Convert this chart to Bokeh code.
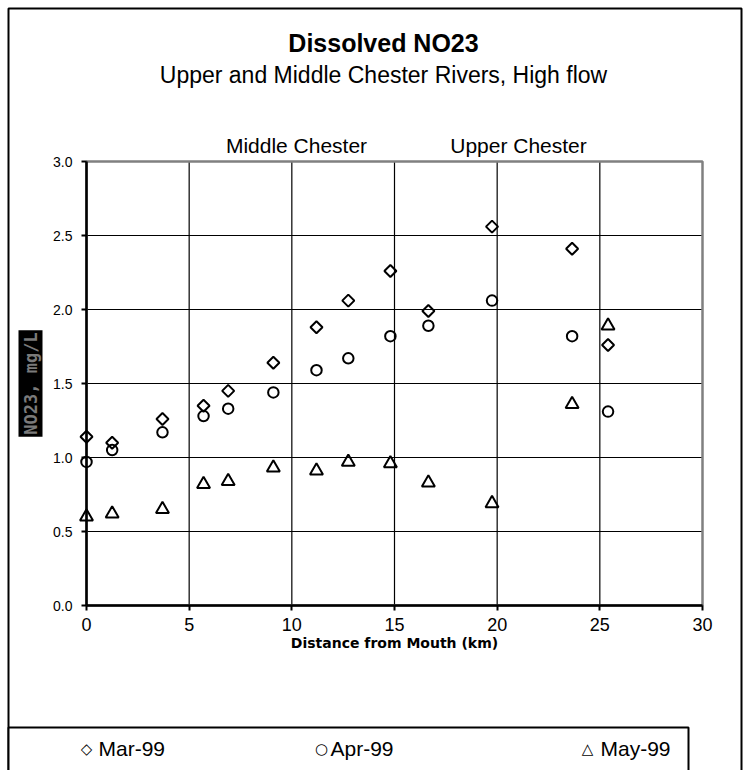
import math
from bokeh.plotting import figure
from bokeh.models import (Label, FixedTicker, Range1d, CustomJSTickFormatter,
                          BoxAnnotation)
from bokeh.embed import file_html
from bokeh.resources import INLINE

# ---- data ----
distance_km = [0, 1.25, 3.7, 5.7, 6.9, 9.1, 11.2, 12.75, 14.8, 16.65, 19.75, 23.65, 25.4]
mar_99 = [1.14, 1.10, 1.26, 1.35, 1.45, 1.64, 1.88, 2.06, 2.26, 1.99, 2.56, 2.41, 1.76]
apr_99 = [0.97, 1.05, 1.17, 1.28, 1.33, 1.44, 1.59, 1.67, 1.82, 1.89, 2.06, 1.82, 1.31]
may_99 = [0.60, 0.62, 0.65, 0.82, 0.84, 0.93, 0.91, 0.97, 0.96, 0.83, 0.69, 1.36, 1.89]
series_names = ["Mar-99", "Apr-99", "May-99"]
legend_symbols = ["\u25C7", "\u25CB", "\u25B3"]
x_ticks = [0, 5, 10, 15, 20, 25, 30]
y_ticks = [0.0, 0.5, 1.0, 1.5, 2.0, 2.5, 3.0]

FONT = "Liberation Sans"
W, H = 749, 770
# where the data area sits on the canvas (px)
FL, FR, FT, FB = 86, 702, 161, 605
SX = (FR - FL) / (x_ticks[-1] - x_ticks[0])
SY = (FB - FT) / (y_ticks[-1] - y_ticks[0])

# the frame covers the whole canvas; axes are pinned at the data origin
p = figure(width=W, height=H,
           x_range=Range1d(x_ticks[0] - FL / SX, x_ticks[0] + (W - FL) / SX),
           y_range=Range1d(y_ticks[0] - (H - FB) / SY, y_ticks[0] + FB / SY),
           output_backend="svg", toolbar_location=None, min_border=0)
p.background_fill_color = "white"
p.border_fill_color = "white"
p.outline_line_color = None
p.xgrid.visible = False
p.ygrid.visible = False

def dx(px):
    return x_ticks[0] + (px - FL) / SX

def dy(py):
    return y_ticks[0] + (FB - py) / SY

# grid lines from the tick lists
inner_x = x_ticks[1:-1]
inner_y = y_ticks[1:-1]
p.segment(x0=inner_x, y0=[y_ticks[0]] * len(inner_x), x1=inner_x,
          y1=[y_ticks[-1]] * len(inner_x), line_color="black", line_width=1.2,
          level="underlay")
p.segment(x0=[x_ticks[0]] * len(inner_y), y0=inner_y, x1=[x_ticks[-1]] * len(inner_y),
          y1=inner_y, line_color="black", line_width=1.2, level="underlay")
# plot-area border (grey)
p.add_layout(BoxAnnotation(left=x_ticks[0], right=x_ticks[-1], bottom=y_ticks[0],
                           top=y_ticks[-1], fill_alpha=0, line_color="#808080",
                           line_alpha=1, line_width=2.5, level="underlay"))

# axes
p.xaxis.ticker = FixedTicker(ticks=x_ticks)
p.yaxis.ticker = FixedTicker(ticks=y_ticks)
p.xaxis.fixed_location = y_ticks[0]
p.yaxis.fixed_location = x_ticks[0]
p.xaxis.bounds = (x_ticks[0], x_ticks[-1])
p.yaxis.bounds = (y_ticks[0], y_ticks[-1])
p.yaxis.formatter = CustomJSTickFormatter(code="return tick.toFixed(1);")
for ax in (p.xaxis, p.yaxis):
    ax.axis_line_color = "black"
    ax.axis_line_width = 2.5
    ax.major_tick_line_color = "black"
    ax.major_tick_line_width = 2
    ax.major_tick_in = 0
    ax.major_tick_out = 5
    ax.minor_tick_line_color = None
    ax.major_label_text_font = FONT
    ax.major_label_text_color = "black"
p.yaxis.major_label_text_font_size = "14px"
p.yaxis.major_label_standoff = 9
p.xaxis.major_label_text_font_size = "18px"
p.xaxis.major_label_standoff = 7
p.xaxis.axis_label = "Distance from Mouth (km)"
p.xaxis.axis_label_text_font = "DejaVu Sans"
p.xaxis.axis_label_text_font_size = "14px"
p.xaxis.axis_label_text_font_style = "bold"
p.xaxis.axis_label_text_color = "black"
p.xaxis.axis_label_standoff = 1

# series
p.scatter(distance_km, mar_99, marker="square", angle=math.pi / 4, size=8.5,
          line_color="black", line_width=2, fill_color=None)
p.scatter(distance_km, apr_99, marker="circle", size=10.5, line_color="black",
          line_width=2, fill_color=None)
p.scatter(distance_km, may_99, marker="triangle", size=13, line_color="black",
          line_width=2, fill_color=None)

# chart-area frame and legend box
p.add_layout(BoxAnnotation(left=dx(8), right=dx(741), top=dy(8), bottom=dy(800),
                           fill_alpha=0, line_color="black", line_alpha=1,
                           line_width=2))
p.add_layout(BoxAnnotation(left=dx(8), right=dx(688), top=dy(727), bottom=dy(800),
                           fill_color="white", fill_alpha=1, line_color="black",
                           line_alpha=1, line_width=2))

def add_text(txt, px, py, size, style="normal", align="center", font=FONT,
             color="black"):
    p.add_layout(Label(x=dx(px), y=dy(py), text=txt, text_align=align,
                       text_baseline="middle", text_font=font,
                       text_font_size=size, text_font_style=style, text_color=color))

add_text("Dissolved NO23", 383, 42, "25px", "bold")
add_text("Upper and Middle Chester Rivers, High flow", 383, 74, "23px")
add_text("Middle Chester", 296, 145, "21px")
add_text("Upper Chester", 518, 145, "21px")

# y axis label (black box with grey text, as rendered in the reference)
p.add_layout(Label(x=dx(30), y=dy(383), text="NO23, mg/L", angle=90, angle_units="deg",
                   text_align="center", text_baseline="middle",
                   text_font="DejaVu Sans Mono", text_font_size="17px",
                   text_font_style="bold", text_color="#7a7a7a",
                   background_fill_color="black", padding=2))

# legend (symbols + labels)
legend_sym_x = [86, 321, 587]
legend_txt_x = [98, 330, 600]
for sym, name, sx, tx in zip(legend_symbols, series_names, legend_sym_x, legend_txt_x):
    add_text(sym, sx, 748, "15px", "bold", font="DejaVu Sans")
    add_text(name, tx, 748, "21px", align="left")

open("out.html", "w").write(file_html(p, INLINE))
